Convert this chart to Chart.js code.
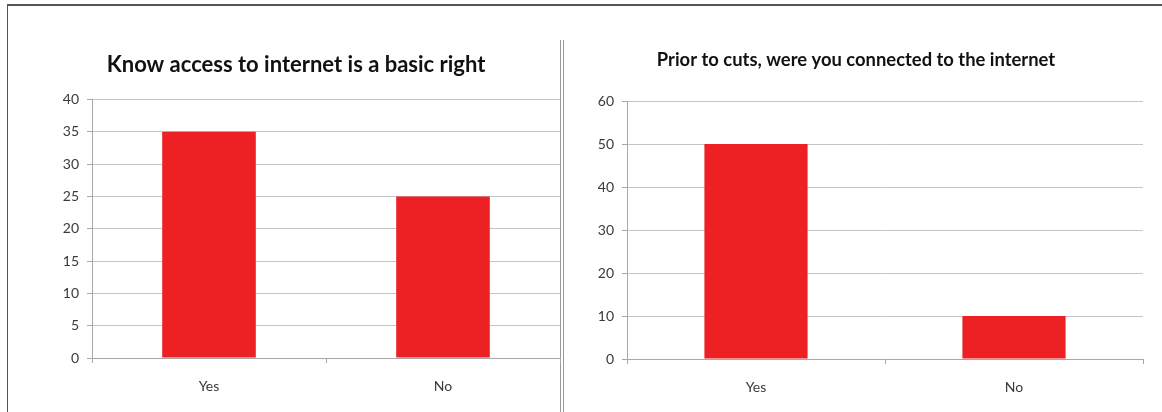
<!DOCTYPE html>
<html>
<head>
<meta charset="utf-8">
<script src="https://cdn.jsdelivr.net/npm/chart.js@4/dist/chart.umd.min.js"></script>
<style>
  html, body { margin: 0; padding: 0; background: #fff; }
  body { width: 1162px; height: 412px; position: relative; overflow: hidden; }
  .frame { position: absolute; left: 7px; top: 4px; width: 1160px; height: 420px;
           border-top: 2px solid #555; border-left: 1px solid #555; box-sizing: border-box; }
  .sep { position: absolute; left: 560px; top: 40px; width: 1px; height: 380px;
         border-left: 1px solid #999; border-right: 1px solid #999; padding-left: 1px; }
  .box { position: absolute; top: 0; height: 412px; }
  #left { left: 0; width: 562px; }
  #right { left: 566px; width: 596px; }
</style>
</head>
<body>
<div class="frame"></div>
<div class="sep"></div>
<div class="box" id="left"><canvas id="c1"></canvas></div>
<div class="box" id="right"><canvas id="c2"></canvas></div>
<script>
const categories = ['Yes', 'No'];
const rightValues = [35, 25];        // Know access to internet is a basic right
const connectedValues = [50, 10];    // Prior to cuts, were you connected to the internet
const leftTicks = [0, 5, 10, 15, 20, 25, 30, 35, 40];
const rightTicks = [0, 10, 20, 30, 40, 50, 60];

const FONT = "Lato, 'Open Sans', 'Liberation Sans', sans-serif";
const BAR = '#ED2024';
const GRID = '#c4c4c4';
const AXIS = '#a8a8a8';
const TEXT = '#3a3a3a';

function makeChart(id, title, titleSize, titlePad, values, ticks, padding, yWidth, zeroY) {
  const max = ticks[ticks.length - 1];
  const step = ticks[1] - ticks[0];
  return new Chart(document.getElementById(id), {
    type: 'bar',
    data: {
      labels: categories,
      datasets: [{ data: values, backgroundColor: BAR, borderWidth: 0,
                   categoryPercentage: 1, barPercentage: 0.4 }]
    },
    options: {
      responsive: true,
      maintainAspectRatio: false,
      animation: false,
      layout: { padding: padding },
      plugins: {
        legend: { display: false },
        tooltip: { enabled: false },
        title: {
          display: true, text: title, color: '#111',
          font: { family: FONT, size: titleSize, weight: 'bold', lineHeight: 1.2 },
          padding: titlePad
        }
      },
      scales: {
        x: {
          grid: { display: true, drawOnChartArea: false, offset: true,
                  color: AXIS, tickLength: 5 },
          border: { color: AXIS, width: 1 },
          ticks: { color: TEXT, font: { family: FONT, size: 14 }, padding: 15 },
          afterFit: s => { s.height = 412 - padding.bottom - zeroY; }
        },
        y: {
          min: 0, max: max,
          grid: { color: GRID, lineWidth: 1, tickLength: 5, tickColor: AXIS },
          border: { color: AXIS, width: 1 },
          ticks: { stepSize: step, color: TEXT, font: { family: FONT, size: 14 }, padding: 8,
                   callback: v => ticks.includes(v) ? String(v) : null },
          afterFit: s => { s.width = yWidth; }
        }
      }
    }
  });
}

makeChart('c1', 'Know access to internet is a basic right', 22,
  { top: 52, bottom: 21 }, rightValues, leftTicks,
  { left: 32, right: 2, top: 0, bottom: 0 }, 60, 358);

makeChart('c2', 'Prior to cuts, were you connected to the internet', 18.4,
  { top: 49, bottom: 30 }, connectedValues, rightTicks,
  { left: 3, right: 19, top: 0, bottom: 0 }, 58, 359);
</script>
</body>
</html>
